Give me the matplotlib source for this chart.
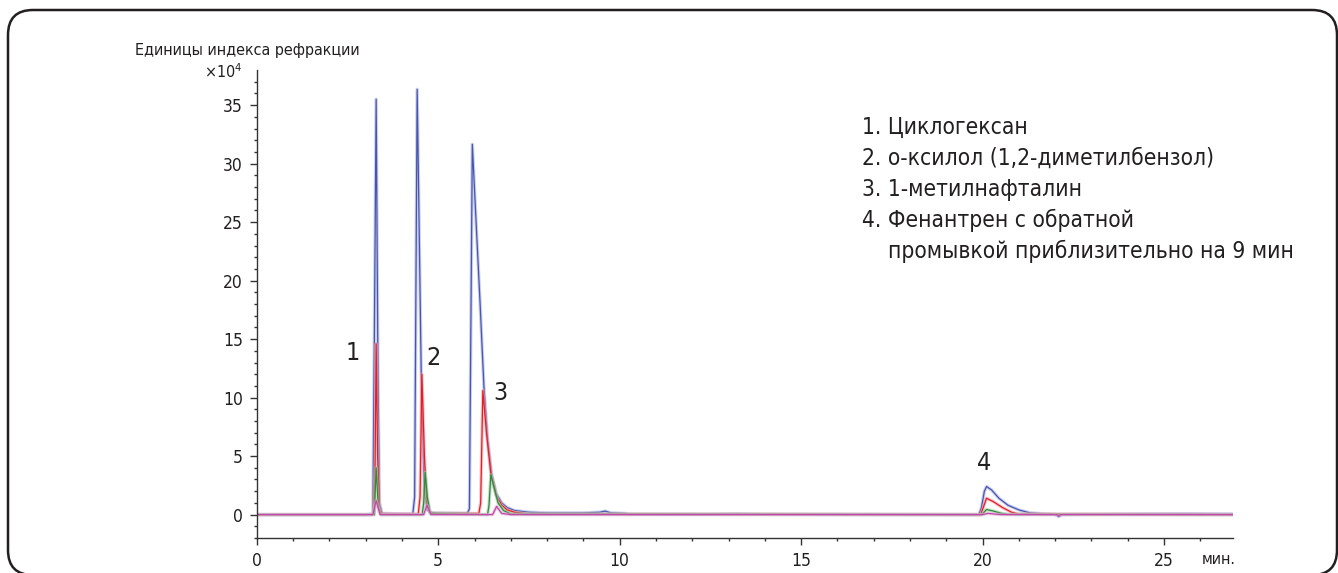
import matplotlib.pyplot as plt
from matplotlib import font_manager as fm
from matplotlib.patches import FancyBboxPatch
from matplotlib.transforms import IdentityTransform

# the original uses a condensed face; take one if the machine has it
narrow = [f for f in fm.fontManager.ttflist
          if ("Condensed" in f.name or "Narrow" in f.name
              or f.stretch in ("condensed", "semi-condensed", "extra-condensed"))
          and f.style == "normal"]
if narrow:
    plt.rcParams["font.family"] = [narrow[0].name, "DejaVu Sans"]
    plt.rcParams["font.stretch"] = narrow[0].stretch
    condensed = True
else:
    plt.rcParams["font.family"] = ["Liberation Sans", "DejaVu Sans"]
    condensed = False

# retention time (min) / signal (x10^4) vertices
blue_t = [0, 3.0, 3.2, 3.24, 3.29, 3.34, 3.38, 3.45, 4.30, 4.35, 4.42, 4.54, 4.62, 4.70,
          4.80, 5.80, 5.86, 5.94, 6.05, 6.15, 6.26, 6.36, 6.47, 6.60, 6.75, 6.9, 7.1, 7.5,
          8.0, 9.0, 9.45, 9.6, 9.75, 10.15, 10.3, 12.5, 13.2, 14.0, 19.9, 19.97, 20.05,
          20.11, 20.25, 20.45, 20.7, 21.0, 21.3, 22.0, 22.1, 22.2, 24.0, 25.5, 26.9]
blue_v = [0, 0, 0.05, 15, 35.5, 12, 1, 0.1, 0.05, 1.5, 36.35, 10.3, 2.0, 0.4,
          0.15, 0.1, 0.5, 31.65, 24.6, 18.3, 10.9, 6.5, 3.5, 1.8, 1.0, 0.6, 0.35, 0.2,
          0.15, 0.15, 0.2, 0.3, 0.15, 0.1, 0.02, 0.02, 0.06, 0.02, 0, 0.6, 2.0,
          2.4, 2.1, 1.4, 0.8, 0.4, 0.15, 0.0, -0.15, 0, 0.05, 0.08, 0.05]

red_t = [0, 3.22, 3.26, 3.29, 3.33, 3.38, 3.45, 4.45, 4.50, 4.55, 4.62, 4.68, 4.75, 4.85,
         6.12, 6.17, 6.23, 6.33, 6.45, 6.6, 6.75, 6.9, 7.1, 7.5, 19.95, 20.03, 20.11,
         20.3, 20.55, 20.8, 21.0, 26.9]
red_v = [0, 0, 4, 14.6, 5, 0.5, 0.05, 0.05, 1.5, 12.0, 5, 1.2, 0.3, 0.1,
         0.1, 1.0, 10.6, 7.0, 3.5, 1.6, 0.8, 0.4, 0.2, 0.05, 0, 0.7, 1.4,
         1.1, 0.6, 0.2, 0.05, 0]

green_t = [0, 3.24, 3.29, 3.35, 3.42, 4.56, 4.60, 4.64, 4.70, 4.78, 6.36, 6.40, 6.45,
           6.55, 6.65, 6.8, 7.0, 19.98, 20.11, 20.3, 20.5, 20.7, 26.9]
green_v = [0, 0, 4.0, 0.6, 0, 0, 1.0, 3.6, 1.5, 0.1, 0, 0.8, 3.4,
           2.2, 1.0, 0.35, 0.05, 0, 0.43, 0.3, 0.12, 0.02, 0]

magenta_t = [0, 3.2, 3.29, 3.4, 4.6, 4.69, 4.8, 6.5, 6.61, 6.75, 7.0, 20.0, 20.15, 20.5,
             22.05, 22.1, 22.15, 26.9]
magenta_v = [0, 0, 1.2, 0, 0, 0.8, 0, 0, 0.7, 0.1, 0, 0, 0.1, 0,
             0, -0.15, 0, 0]

peak_labels = ["1", "2", "3", "4"]
peak_label_t = [2.65, 4.88, 6.70, 20.04]
peak_label_v = [13.8, 13.4, 10.4, 4.4]

legend_lines = [
    "1. Циклогексан",
    "2. о-ксилол (1,2-диметилбензол)",
    "3. 1-метилнафталин",
    "4. Фенантрен с обратной",
    "    промывкой приблизительно на 9 мин",
]

TXT = "#231f20"
if condensed:
    fs_tick, fs_title, fs_leg, fs_peak = 12.5, 11.5, 16.3, 18
else:
    fs_tick, fs_title, fs_leg, fs_peak = 12, 11.5, 15.5, 17

fig = plt.figure(figsize=(13.38, 5.73), dpi=100)
ax = fig.add_axes([0.1919, 0.0611, 0.9215 - 0.1919, 0.8778 - 0.0611])

traces = [
    (blue_t, blue_v, "#4656b0", "#aab0dc"),
    (red_t, red_v, "#e51e25", "#f4a0a6"),
    (green_t, green_v, "#2f8a3b", "#9ccaa2"),
    (magenta_t, magenta_v, "#bf4aa6", "#e2a8d6"),
]
for t, v, c, halo in traces:
    ax.plot(t, v, color=halo, lw=2.4, alpha=0.6, solid_joinstyle="round")
    ax.plot(t, v, color=c, lw=0.9, solid_joinstyle="round")

for lab, t, v in zip(peak_labels, peak_label_t, peak_label_v):
    ax.text(t, v, lab, fontsize=fs_peak, color=TXT, ha="center", va="center")

ax.set_xlim(0, 26.9)
ax.set_ylim(-2, 38)
ax.set_xticks([0, 5, 10, 15, 20, 25])
ax.set_xticks(range(0, 27), minor=True)
ax.set_yticks([0, 5, 10, 15, 20, 25, 30, 35])
ax.set_yticks(range(-2, 38), minor=True)

for s in ["top", "right"]:
    ax.spines[s].set_visible(False)
for s in ["left", "bottom"]:
    ax.spines[s].set_color("#333333")
    ax.spines[s].set_linewidth(1.0)

ax.tick_params(which="major", length=5, width=1, color="#333333",
               labelsize=fs_tick, labelcolor=TXT, pad=5)
ax.tick_params(which="minor", length=2.5, width=1, color="#333333")

ax.annotate("мин.", xy=(1, 0), xycoords="axes fraction", xytext=(-10, -10),
            textcoords="offset points", ha="center", va="top", fontsize=fs_title,
            color=TXT)

fig.text(135 / 1338, 1 - 50 / 573, "Единицы индекса рефракции", fontsize=fs_title,
         color=TXT, ha="left", va="center")
fig.text(242 / 1338, 1 - 72 / 573, "×10$^4$", fontsize=fs_title, color=TXT,
         ha="right", va="center")

for i, line in enumerate(legend_lines):
    fig.text(862 / 1338, 1 - (127 + 31.2 * i) / 573, line, fontsize=fs_leg,
             color=TXT, ha="left", va="center")

frame = FancyBboxPatch((8, -2), 1329, 565, boxstyle="round,pad=0,rounding_size=25",
                       transform=IdentityTransform(), fill=False, lw=1.8,
                       edgecolor=TXT)
fig.patches.append(frame)

fig.savefig("out.png", dpi=100)
